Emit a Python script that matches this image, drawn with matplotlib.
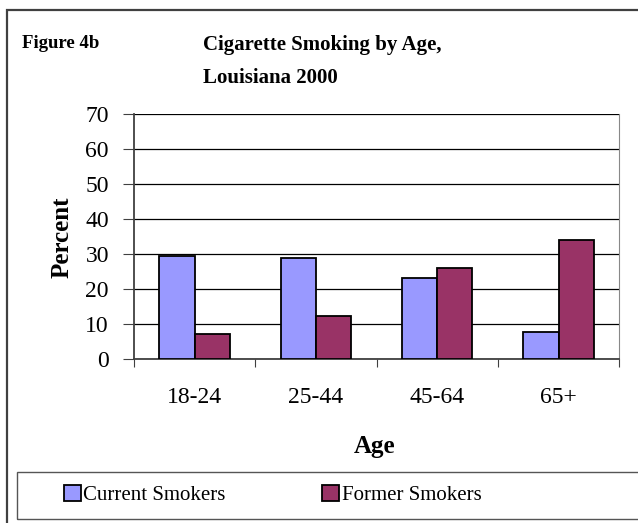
import numpy as np
import matplotlib
matplotlib.use("Agg")
import matplotlib.pyplot as plt
from matplotlib.patches import Rectangle

# Werte
age_groups = ["18-24", "25-44", "45-64", "65+"]
current_smokers = [29.5, 28.9, 23.1, 7.7]
former_smokers = [7.1, 12.4, 26.0, 34.1]
y_ticks = [0, 10, 20, 30, 40, 50, 60, 70]

plt.rcParams['font.family'] = ['Liberation Serif', 'DejaVu Serif']

W, H = 638, 523
fig = plt.figure(figsize=(W / 100, H / 100), dpi=100)

# Rahmen um die ganze Grafik
fig.patches.append(Rectangle((7 / W, -0.1), 1.2, 1 - 10 / H + 0.1, transform=fig.transFigure,
                             fill=False, edgecolor="#404040", linewidth=1.6))
# Rahmen der Legende
fig.patches.append(Rectangle((17 / W, 1 - 519 / H), 1.2, (519 - 472) / H, transform=fig.transFigure,
                             fill=False, edgecolor="#555555", linewidth=1.0))

ax = fig.add_axes([134 / W, 1 - 359.3 / H, (619.3 - 134) / W, (359.3 - 114.3) / H])

x = np.arange(len(age_groups))
width = 0.29
b1 = ax.bar(x + 0.5 - width / 2, current_smokers, width, color="#9999FF", edgecolor="black",
            linewidth=1.3, label="Current Smokers", zorder=3)
b2 = ax.bar(x + 0.5 + width / 2, former_smokers, width, color="#993366", edgecolor="black",
            linewidth=1.3, label="Former Smokers", zorder=3)

ax.set_xlim(0, 4)
ax.set_ylim(0, 70)
ax.set_yticks(y_ticks)
ax.set_yticklabels([str(v) for v in y_ticks], fontsize=17)
ax.yaxis.grid(True, color="black", linewidth=0.9, zorder=0)

ax.set_xticks([0, 1, 2, 3, 4])
ax.set_xticklabels([])
ax.set_xticks(x + 0.5, minor=True)
ax.set_xticklabels(age_groups, minor=True, fontsize=17)
ax.tick_params(axis='x', which='major', direction='out', length=6, color="#404040")
ax.tick_params(axis='x', which='minor', length=0, pad=20)
ax.tick_params(axis='y', direction='out', length=8, pad=10, color="#404040")

for s in ["left", "bottom"]:
    ax.spines[s].set_color("#404040")
    ax.spines[s].set_linewidth(1.3)
ax.spines["top"].set_visible(False)
ax.spines["right"].set_color("#888888")

fig.text(62 / W, 1 - 237 / H, "Percent", rotation=90, ha="center", va="center",
         fontsize=18, fontweight="bold")
fig.text(375 / W, 1 - 447 / H, "Age", ha="center", va="center", fontsize=18, fontweight="bold")

fig.text(22 / W, 1 - 43 / H, "Figure 4b", ha="left", va="center", fontsize=13.5, fontweight="bold")
fig.text(203 / W, 1 - 45 / H, "Cigarette Smoking by Age,", ha="left", va="center",
         fontsize=15, fontweight="bold")
fig.text(203 / W, 1 - 78 / H, "Louisiana 2000", ha="left", va="center",
         fontsize=15, fontweight="bold")

fig.legend(handles=[b1, b2], loc="center left", bbox_to_anchor=(64 / W, 1 - 495 / H),
           ncol=2, frameon=False, fontsize=15, handlelength=0.8, handleheight=0.8,
           handletextpad=0.12, columnspacing=4.65, borderpad=0, borderaxespad=0)

fig.savefig("out.png", dpi=100)
